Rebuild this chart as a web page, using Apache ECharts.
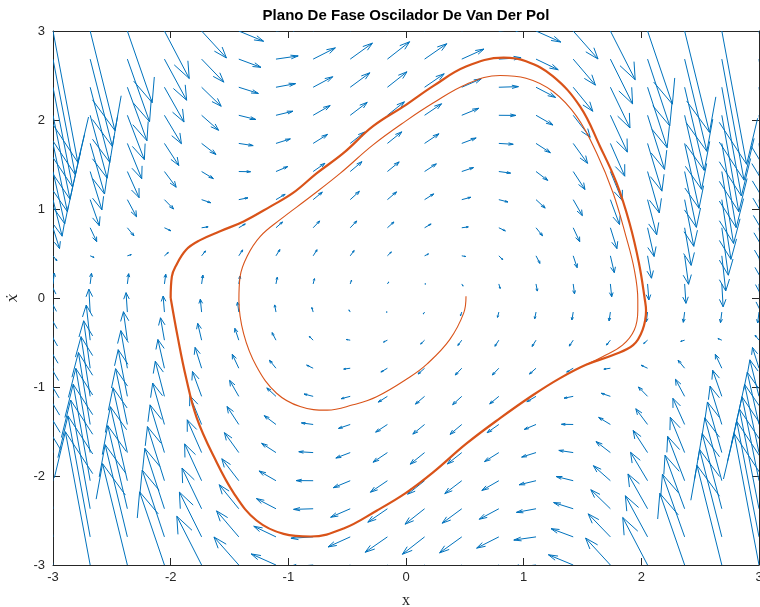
<!DOCTYPE html>
<html>
<head>
<meta charset="utf-8">
<title>Plano De Fase Oscilador De Van Der Pol</title>
<script src="https://cdn.jsdelivr.net/npm/echarts@6/dist/echarts.min.js"></script>
<style>
  html, body { margin: 0; padding: 0; background: #fff; }
  #chart { width: 760px; height: 607px; }
</style>
</head>
<body>
<div id="chart"></div>
<script>
// arrow tails (quiver grid), 20 x 20
const gridX = [-3, -2.684, -2.368, -2.053, -1.737, -1.421, -1.105, -0.789, -0.474, -0.158,
  0.158, 0.474, 0.789, 1.105, 1.421, 1.737, 2.053, 2.368, 2.684, 3]
const gridY = [-3, -2.684, -2.368, -2.053, -1.737, -1.421, -1.105, -0.789, -0.474, -0.158,
  0.158, 0.474, 0.789, 1.105, 1.421, 1.737, 2.053, 2.368, 2.684, 3]

// horizontal arrow component, one value per row (same along a row)
const arrowU = [-3, -2.684, -2.368, -2.053, -1.737, -1.421, -1.105, -0.789, -0.474, -0.158,
  0.158, 0.474, 0.789, 1.105, 1.421, 1.737, 2.053, 2.368, 2.684, 3]

// vertical arrow component, one row per gridY value, columns follow gridX
const arrowV = [
  [27, 21.30, 16.20, 11.69, 7.79, 4.48, 1.77, -0.34, -1.85, -2.77, -3.08, -2.80, -1.92, -0.44, 1.64, 4.31, 7.59, 11.46, 15.93, 21],
  [24.47, 19.34, 14.74, 10.68, 7.15, 4.16, 1.70, -0.22, -1.61, -2.46, -2.78, -2.56, -1.80, -0.51, 1.32, 3.68, 6.57, 10.01, 13.97, 18.47],
  [21.95, 17.38, 13.29, 9.66, 6.51, 3.84, 1.63, -0.10, -1.36, -2.15, -2.47, -2.31, -1.68, -0.58, 0.99, 3.04, 5.56, 8.55, 12.01, 15.95],
  [19.42, 15.42, 11.83, 8.65, 5.88, 3.51, 1.56, 0.02, -1.12, -1.84, -2.16, -2.07, -1.56, -0.65, 0.67, 2.40, 4.54, 7.09, 10.05, 13.42],
  [16.90, 13.46, 10.37, 7.63, 5.24, 3.19, 1.49, 0.14, -0.87, -1.54, -1.85, -1.82, -1.44, -0.72, 0.35, 1.77, 3.53, 5.64, 8.09, 10.90],
  [14.37, 11.50, 8.92, 6.62, 4.60, 2.87, 1.42, 0.25, -0.63, -1.23, -1.54, -1.58, -1.32, -0.79, 0.03, 1.13, 2.51, 4.18, 6.13, 8.37],
  [11.84, 9.54, 7.46, 5.61, 3.97, 2.55, 1.35, 0.37, -0.38, -0.92, -1.24, -1.33, -1.21, -0.86, -0.29, 0.49, 1.50, 2.73, 4.17, 5.84],
  [9.32, 7.58, 6.01, 4.59, 3.33, 2.23, 1.28, 0.49, -0.14, -0.61, -0.93, -1.09, -1.09, -0.93, -0.62, -0.15, 0.48, 1.27, 2.22, 3.32],
  [6.79, 5.62, 4.55, 3.58, 2.69, 1.90, 1.21, 0.61, 0.11, -0.30, -0.62, -0.84, -0.97, -1.00, -0.94, -0.78, -0.53, -0.19, 0.26, 0.79],
  [4.26, 3.66, 3.10, 2.56, 2.06, 1.58, 1.14, 0.73, 0.35, 0.00, -0.31, -0.60, -0.85, -1.07, -1.26, -1.42, -1.55, -1.64, -1.70, -1.74],
  [1.74, 1.70, 1.64, 1.55, 1.42, 1.26, 1.07, 0.85, 0.60, 0.31, 0.00, -0.35, -0.73, -1.14, -1.58, -2.06, -2.56, -3.10, -3.66, -4.26],
  [-0.79, -0.26, 0.19, 0.53, 0.78, 0.94, 1.00, 0.97, 0.84, 0.62, 0.30, -0.11, -0.61, -1.21, -1.90, -2.69, -3.58, -4.55, -5.62, -6.79],
  [-3.32, -2.22, -1.27, -0.48, 0.15, 0.62, 0.93, 1.09, 1.09, 0.93, 0.61, 0.14, -0.49, -1.28, -2.23, -3.33, -4.59, -6.01, -7.58, -9.32],
  [-5.84, -4.17, -2.73, -1.50, -0.49, 0.29, 0.86, 1.21, 1.33, 1.24, 0.92, 0.38, -0.37, -1.35, -2.55, -3.97, -5.61, -7.46, -9.54, -11.84],
  [-8.37, -6.13, -4.18, -2.51, -1.13, -0.03, 0.79, 1.32, 1.58, 1.54, 1.23, 0.63, -0.25, -1.42, -2.87, -4.60, -6.62, -8.92, -11.50, -14.37],
  [-10.90, -8.09, -5.64, -3.53, -1.77, -0.35, 0.72, 1.44, 1.82, 1.85, 1.54, 0.87, -0.14, -1.49, -3.19, -5.24, -7.63, -10.37, -13.46, -16.90],
  [-13.42, -10.05, -7.09, -4.54, -2.40, -0.67, 0.65, 1.56, 2.07, 2.16, 1.84, 1.12, -0.02, -1.56, -3.51, -5.88, -8.65, -11.83, -15.42, -19.42],
  [-15.95, -12.01, -8.55, -5.56, -3.04, -0.99, 0.58, 1.68, 2.31, 2.47, 2.15, 1.36, 0.10, -1.63, -3.84, -6.51, -9.66, -13.29, -17.38, -21.95],
  [-18.47, -13.97, -10.01, -6.57, -3.68, -1.32, 0.51, 1.80, 2.56, 2.78, 2.46, 1.61, 0.22, -1.70, -4.16, -7.15, -10.68, -14.74, -19.34, -24.47],
  [-21, -15.93, -11.46, -7.59, -4.31, -1.64, 0.44, 1.92, 2.80, 3.08, 2.77, 1.85, 0.34, -1.77, -4.48, -7.79, -11.69, -16.20, -21.30, -27]
]

// trajectory: first turns (thin) starting near (0.5, 0)
const spiralX = [0.51, 0.49, 0.37, 0.18, 0.03, -0.25, -0.45, -0.67, -0.90, -1.10, -1.27, -1.38, -1.42, -1.41, -1.35, -1.24, -1.07, -0.81, -0.56, -0.28, 0.00, 0.23, 0.51, 0.80, 1.02, 1.25, 1.45, 1.62, 1.76, 1.87, 1.94, 1.97, 1.97, 1.94, 1.84, 1.67, 1.53]
const spiralY = [0.02, -0.17, -0.47, -0.74, -0.89, -1.11, -1.20, -1.26, -1.22, -1.07, -0.77, -0.40, -0.02, 0.24, 0.47, 0.69, 0.88, 1.14, 1.40, 1.72, 1.99, 2.19, 2.40, 2.50, 2.47, 2.32, 2.04, 1.63, 1.18, 0.69, 0.32, -0.02, -0.14, -0.36, -0.53, -0.66, -0.75]

// trajectory: limit cycle (thick, traced many times)
const cycleX = [-2.00, -1.99, -1.96, -1.87, -1.75, -1.58, -1.38, -1.15, -0.96, -0.76, -0.53, -0.28, 0.00, 0.23, 0.51, 0.83, 1.02, 1.25, 1.48, 1.65, 1.79, 1.90, 1.98, 2.03, 2.04, 2.01, 1.93, 1.76, 1.53, 1.31, 1.08, 0.80, 0.51, 0.23, 0.00, -0.25, -0.53, -0.81, -1.04, -1.27, -1.46, -1.63, -1.78, -1.87, -1.94, -2.00]
const cycleY = [0.00, 0.24, 0.35, 0.54, 0.65, 0.75, 0.86, 1.03, 1.18, 1.40, 1.63, 1.93, 2.17, 2.38, 2.60, 2.70, 2.66, 2.49, 2.15, 1.70, 1.29, 0.84, 0.39, -0.02, -0.14, -0.36, -0.53, -0.64, -0.75, -0.90, -1.09, -1.35, -1.64, -1.96, -2.19, -2.39, -2.59, -2.68, -2.65, -2.50, -2.20, -1.79, -1.34, -0.89, -0.44, 0.00]

const arrowScale = 0.0703 // quiver autoscale
const headA = 0.33
const headB = 0.33
const blue = '#0072BD'
const red = '#D95319'
const axisColor = '#262626'

var quiverData = []
for (var j = 0; j < gridY.length; ++j) {
  for (var i = 0; i < gridX.length; ++i) {
    quiverData.push([gridX[i], gridY[j], arrowU[j], arrowV[j][i]])
  }
}
var spiralData = spiralX.map((x, k) => [x, spiralY[k]])
var cycleData = cycleX.map((x, k) => [x, cycleY[k]])

var chart = echarts.init(document.getElementById('chart'))

function renderArrow(params, api) {
  var x = api.value(0)
  var y = api.value(1)
  var u = api.value(2) * arrowScale
  var v = api.value(3) * arrowScale
  var tail = api.coord([x, y])
  var tip = api.coord([x + u, y + v])
  var b1 = api.coord([x + u - headA * (u + headB * v), y + v - headA * (v - headB * u)])
  var b2 = api.coord([x + u - headA * (u - headB * v), y + v - headA * (v + headB * u)])
  var st = { stroke: blue, lineWidth: 1, fill: null }
  return {
    type: 'group',
    children: [
      { type: 'polyline', shape: { points: [tail, tip] }, style: st },
      { type: 'polyline', shape: { points: [b1, tip, b2] }, style: st }
    ]
  }
}

var tickStyle = { show: true, inside: true, length: 7, lineStyle: { color: axisColor, width: 1 } }
var lineStyleAxis = { show: true, onZero: false, lineStyle: { color: axisColor, width: 1 } }

chart.setOption({
  animation: false,
  backgroundColor: '#fff',
  grid: { left: 53, right: 1, top: 31, bottom: 42, containLabel: false, outerBoundsMode: 'none' },
  graphic: [{
    type: 'text',
    x: 406,
    y: 16,
    style: {
      text: 'Plano De Fase Oscilador De Van Der Pol',
      font: 'bold 15px "Liberation Sans", Arial, sans-serif',
      fill: '#000',
      textAlign: 'center',
      textVerticalAlign: 'middle'
    }
  }],
  xAxis: [{
    type: 'value',
    min: -3,
    max: 3,
    interval: 1,
    position: 'bottom',
    name: 'x',
    nameLocation: 'middle',
    nameGap: 28,
    nameTextStyle: { fontFamily: '"Liberation Serif", serif', fontSize: 16, color: axisColor },
    axisLine: lineStyleAxis,
    axisTick: tickStyle,
    axisLabel: { color: axisColor, fontSize: 13, fontFamily: '"Liberation Sans", Arial, sans-serif', margin: 6 },
    splitLine: { show: false }
  }, {
    type: 'value',
    min: -3,
    max: 3,
    interval: 1,
    position: 'top',
    axisLine: lineStyleAxis,
    axisTick: tickStyle,
    axisLabel: { show: false },
    splitLine: { show: false }
  }],
  yAxis: [{
    type: 'value',
    min: -3,
    max: 3,
    interval: 1,
    position: 'left',
    name: '\u1E8B',
    nameLocation: 'middle',
    nameGap: 32,
    nameTextStyle: { fontFamily: '"DejaVu Serif", serif', fontStyle: 'italic', fontSize: 15, color: axisColor },
    axisLine: lineStyleAxis,
    axisTick: tickStyle,
    axisLabel: { color: axisColor, fontSize: 13, fontFamily: '"Liberation Sans", Arial, sans-serif', margin: 8 },
    splitLine: { show: false }
  }, {
    type: 'value',
    min: -3,
    max: 3,
    interval: 1,
    position: 'right',
    axisLine: lineStyleAxis,
    axisTick: tickStyle,
    axisLabel: { show: false },
    splitLine: { show: false }
  }],
  series: [{
    name: 'campo',
    type: 'custom',
    xAxisIndex: 0,
    yAxisIndex: 0,
    clip: true,
    renderItem: renderArrow,
    data: quiverData,
    silent: true
  }, {
    name: 'transitorio',
    type: 'line',
    xAxisIndex: 0,
    yAxisIndex: 0,
    data: spiralData,
    showSymbol: false,
    smooth: 0.4,
    lineStyle: { color: red, width: 1.1 },
    silent: true
  }, {
    name: 'ciclo limite',
    type: 'line',
    xAxisIndex: 0,
    yAxisIndex: 0,
    data: cycleData,
    showSymbol: false,
    smooth: 0.4,
    lineStyle: { color: red, width: 2.2 },
    silent: true
  }]
})
</script>
</body>
</html>
